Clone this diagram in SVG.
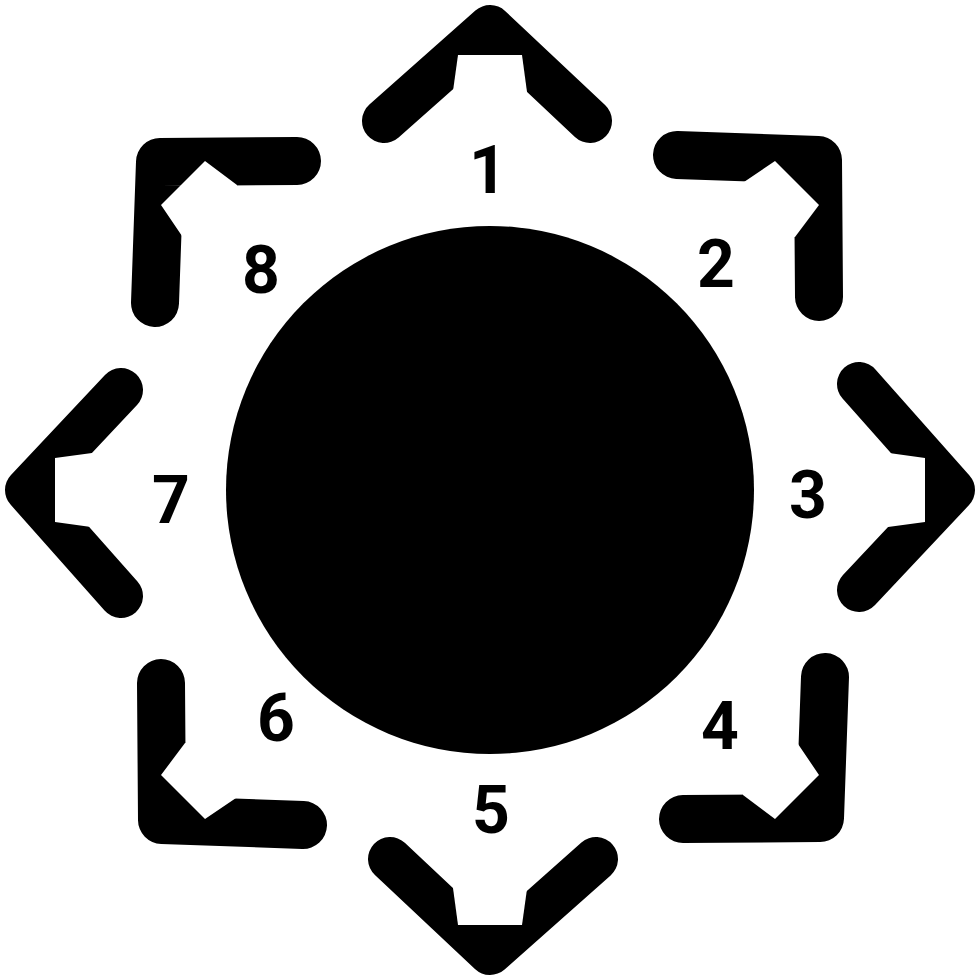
<svg xmlns="http://www.w3.org/2000/svg" xmlns:xlink="http://www.w3.org/1999/xlink" width="980" height="980" viewBox="0 0 980 980">
  <style>
    .arm { fill: none; stroke: #000; stroke-linecap: round; stroke-linejoin: round; }
    .notch { fill: #fff; stroke: none; }
    .num { font-family: Roboto, "Liberation Sans", Arial, sans-serif; font-weight: 700; font-size: 66px; fill: #000; text-anchor: middle; }
  </style>
  <defs>
    <g id="chevron-straight">
      <path class="arm" stroke-width="44" d="M384,121 L490,27 L590,121"/>
      <polygon class="notch" points="458,55 522,55 527,92 524,100 456,100 453,91"/>
    </g>
    <g id="chevron-corner">
      <path class="arm" stroke-width="48" d="M677,155 L818,160 L819,297"/>
      <polygon class="notch" points="744,182 775,161 819,205 795,237 786,237 786,192 744,192"/>
    </g>
  </defs>
  <rect width="980" height="980" fill="#fff"/>
  <g id="center">
    <circle cx="490" cy="490" r="264" fill="#000"/>
  </g>
  <g id="step-1">
    <use xlink:href="#chevron-straight" href="#chevron-straight"/>
    <text class="num" x="488" y="193">1</text>
  </g>
  <g id="step-2">
    <use xlink:href="#chevron-corner" href="#chevron-corner"/>
    <text class="num" x="716" y="287">2</text>
  </g>
  <g id="step-3">
    <use xlink:href="#chevron-straight" href="#chevron-straight" transform="rotate(90 490 490)"/>
    <text class="num" x="808" y="518">3</text>
  </g>
  <g id="step-4">
    <use xlink:href="#chevron-corner" href="#chevron-corner" transform="rotate(90 490 490)"/>
    <text class="num" x="720" y="749">4</text>
  </g>
  <g id="step-5">
    <use xlink:href="#chevron-straight" href="#chevron-straight" transform="rotate(180 490 490)"/>
    <text class="num" x="491" y="833">5</text>
  </g>
  <g id="step-6">
    <use xlink:href="#chevron-corner" href="#chevron-corner" transform="rotate(180 490 490)"/>
    <text class="num" x="276" y="741">6</text>
  </g>
  <g id="step-7">
    <use xlink:href="#chevron-straight" href="#chevron-straight" transform="rotate(270 490 490)"/>
    <text class="num" x="171" y="523">7</text>
  </g>
  <g id="step-8">
    <use xlink:href="#chevron-corner" href="#chevron-corner" transform="rotate(270 490 490)"/>
    <text class="num" x="261" y="293">8</text>
  </g>
  <g id="connectors"></g>
</svg>
